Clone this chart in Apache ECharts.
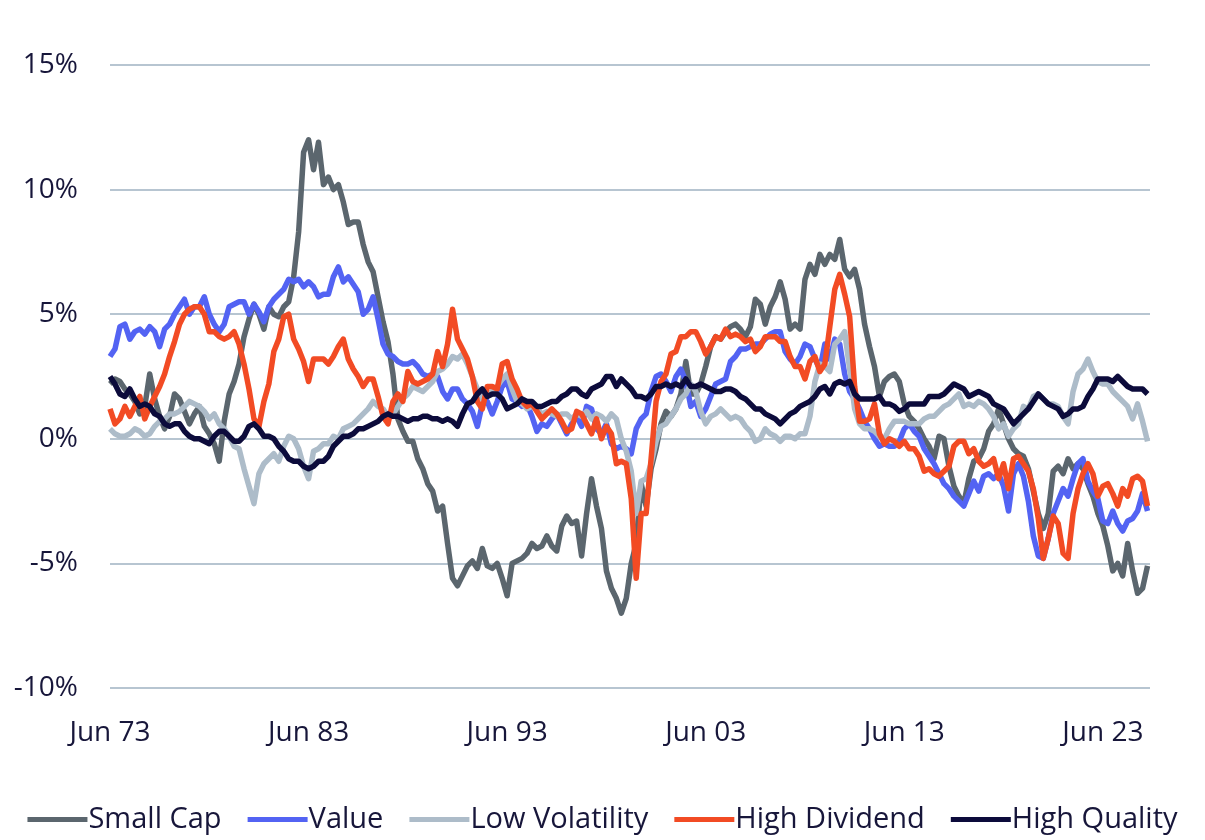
<!DOCTYPE html>
<html>
<head>
<meta charset="utf-8">
<script src="https://cdn.jsdelivr.net/npm/echarts@6/dist/echarts.min.js"></script>
<style>
html,body{margin:0;padding:0;background:#fff;}
#chart{width:1205px;height:840px;}
</style>
</head>
<body>
<div id="chart"></div>
<script>
// Quarterly observations, Jun 1973 (index 0) to Sep 2025 (index 209)
const seriesNames = ['Small Cap', 'Value', 'Low Volatility', 'High Dividend', 'High Quality'];
const xTickLabels = ['Jun 73', 'Jun 83', 'Jun 93', 'Jun 03', 'Jun 13', 'Jun 23'];
const yTickValues = [-10, -5, 0, 5, 10, 15];

const smallCap = [
  2.2, 2.4, 2.3, 2.0, 1.8, 1.5, 1.0, 1.3, 2.6, 1.6,
  0.9, 0.4, 0.9, 1.8, 1.6, 1.1, 0.6, 1.0, 1.3, 0.5,
  0.2, -0.2, -0.9, 0.7, 1.8, 2.3, 3.0, 4.1, 4.8, 5.4,
  5.0, 4.4, 5.3, 5.0, 4.9, 5.3, 5.5, 6.5, 8.3, 11.5,
  12.0, 10.8, 11.9, 10.2, 10.5, 10.0, 10.2, 9.5, 8.6, 8.7,
  8.7, 7.8, 7.1, 6.7, 5.7, 4.7, 3.9, 2.6, 0.8, 0.3,
  -0.1, -0.1, -0.8, -1.2, -1.8, -2.1, -2.9, -2.7, -4.2, -5.6,
  -5.9, -5.5, -5.1, -4.9, -5.2, -4.4, -5.1, -5.2, -5.0, -5.6,
  -6.3, -5.0, -4.9, -4.8, -4.6, -4.2, -4.4, -4.3, -3.9, -4.3,
  -4.5, -3.5, -3.1, -3.4, -3.3, -4.7, -3.0, -1.6, -2.7, -3.6,
  -5.3, -6.0, -6.4, -7.0, -6.4, -5.0, -4.2, -1.8, -2.7, -1.2,
  -0.4, 0.6, 1.1, 0.9, 1.2, 1.8, 3.1, 1.8, 1.8, 2.2,
  2.9, 3.7, 4.1, 4.0, 4.3, 4.5, 4.6, 4.4, 4.1, 4.5,
  5.6, 5.4, 4.6, 5.3, 5.7, 6.3, 5.6, 4.4, 4.6, 4.4,
  6.4, 7.0, 6.6, 7.4, 7.0, 7.4, 7.2, 8.0, 6.8, 6.5,
  6.8, 6.0, 4.6, 3.7, 2.9, 1.7, 2.3, 2.5, 2.6, 2.3,
  1.4, 0.9, 0.7, 0.4, 0.0, -0.3, -0.8, 0.1, 0.0, -1.1,
  -1.9, -2.3, -2.6, -1.6, -0.9, -0.8, -0.4, 0.3, 0.6, 1.2,
  0.6, 0.0, -0.4, -0.6, -0.7, -1.2, -2.1, -3.0, -3.6, -3.0,
  -1.3, -1.1, -1.4, -0.8, -1.2, -1.0, -1.2, -1.8, -2.3, -3.0,
  -3.5, -4.3, -5.3, -5.0, -5.5, -4.2, -5.3, -6.2, -6.0, -5.1
];

const value = [
  3.3, 3.6, 4.5, 4.6, 4.0, 4.3, 4.4, 4.2, 4.5, 4.3,
  3.7, 4.4, 4.6, 5.0, 5.3, 5.6, 5.0, 5.3, 5.3, 5.7,
  5.0, 4.6, 4.3, 4.6, 5.3, 5.4, 5.5, 5.5, 5.0, 5.4,
  5.1, 4.7, 5.3, 5.6, 5.8, 6.0, 6.4, 6.3, 6.4, 6.1,
  6.3, 6.1, 5.7, 5.8, 5.8, 6.5, 6.9, 6.3, 6.5, 6.2,
  5.9, 5.0, 5.2, 5.7, 4.8, 3.8, 3.4, 3.3, 3.1, 3.0,
  3.0, 3.1, 2.9, 2.6, 2.5, 2.6, 2.5, 1.9, 1.6, 2.0,
  2.0, 1.6, 1.4, 1.1, 0.5, 1.4, 1.5, 1.0, 1.5, 2.1,
  2.3, 1.6, 1.5, 1.3, 1.4, 0.9, 0.3, 0.6, 0.5, 0.8,
  1.0, 0.6, 0.2, 0.6, 0.9, 0.5, 1.3, 1.2, 0.4, 0.2,
  0.6, -0.2, -0.4, -0.3, -0.4, -0.6, 0.4, 0.8, 1.0, 1.9,
  2.5, 2.6, 2.3, 1.9, 2.5, 2.8, 2.3, 1.3, 1.5, 0.9,
  1.2, 1.7, 2.2, 2.3, 2.4, 3.1, 3.3, 3.6, 3.6, 3.7,
  3.8, 3.8, 4.0, 4.2, 4.3, 4.3, 3.5, 3.2, 3.0, 3.3,
  3.8, 3.7, 3.2, 2.8, 3.8, 3.2, 4.0, 3.8, 2.6, 1.9,
  1.6, 1.2, 0.7, 0.4, 0.0, -0.3, -0.2, -0.3, -0.3, -0.1,
  0.4, 0.6, 0.3, 0.1, -0.4, -0.7, -1.0, -1.4, -1.8, -2.0,
  -2.3, -2.5, -2.7, -2.2, -1.7, -2.1, -1.5, -1.4, -1.6, -1.4,
  -1.9, -2.9, -1.4, -1.0, -1.5, -2.5, -3.9, -4.7, -4.8, -4.0,
  -3.0, -2.5, -2.0, -2.3, -1.6, -1.0, -0.8, -1.7, -2.1, -2.4,
  -3.3, -3.4, -2.9, -3.4, -3.7, -3.3, -3.2, -2.9, -2.2, -2.9
];

const lowVolatility = [
  0.4, 0.2, 0.1, 0.1, 0.2, 0.4, 0.3, 0.1, 0.2, 0.5,
  0.7, 0.8, 1.0, 1.0, 1.1, 1.3, 1.5, 1.4, 1.3, 1.1,
  0.8, 1.0, 0.6, 0.4, 0.1, -0.3, -0.4, -1.2, -1.9, -2.6,
  -1.4, -1.0, -0.8, -0.6, -0.9, -0.3, 0.1, 0.0, -0.4, -1.1,
  -1.6, -0.5, -0.4, -0.2, -0.2, 0.1, 0.0, 0.4, 0.5, 0.6,
  0.8, 1.0, 1.2, 1.5, 1.3, 1.2, 0.9, 1.0, 1.3, 1.6,
  1.8, 2.1, 2.0, 1.9, 2.1, 2.3, 2.7, 2.8, 3.0, 3.3,
  3.2, 3.4, 3.0, 2.5, 2.0, 1.6, 1.8, 1.9, 2.1, 2.4,
  2.6, 2.0, 1.5, 1.4, 1.2, 1.3, 1.2, 1.0, 1.1, 1.0,
  0.9, 1.0, 1.0, 0.8, 1.0, 0.9, 1.1, 0.8, 1.0, 0.9,
  0.7, 1.0, 0.8, 0.0, -0.5, -1.3, -3.0, -1.7, -1.6, -1.0,
  -0.1, 0.5, 0.6, 0.9, 1.2, 1.6, 1.8, 2.2, 1.9, 1.1,
  0.6, 0.9, 1.0, 1.2, 1.0, 0.8, 0.9, 0.8, 0.5, 0.3,
  -0.1, 0.0, 0.4, 0.2, 0.1, -0.1, 0.1, 0.1, 0.0, 0.2,
  0.2, 0.9, 2.3, 3.0, 2.9, 2.7, 3.8, 4.0, 4.3, 2.8,
  1.2, 0.6, 0.4, 0.4, 0.3, 0.1, 0.0, 0.4, 0.7, 0.7,
  0.7, 0.6, 0.6, 0.6, 0.8, 0.9, 0.9, 1.1, 1.3, 1.4,
  1.6, 1.8, 1.3, 1.4, 1.3, 1.5, 1.4, 1.2, 0.9, 0.4,
  0.6, 0.1, 0.4, 0.6, 1.3, 1.2, 1.7, 1.8, 1.6, 1.4,
  1.4, 1.3, 0.9, 0.6, 1.9, 2.6, 2.8, 3.2, 2.7, 2.3,
  2.2, 2.2, 1.9, 1.7, 1.5, 1.3, 0.8, 1.4, 0.7, -0.1
];

const highDividend = [
  1.2, 0.6, 0.8, 1.3, 0.9, 1.3, 1.7, 0.8, 1.3, 1.7,
  2.1, 2.6, 3.3, 3.9, 4.6, 5.0, 5.2, 5.3, 5.3, 5.0,
  4.3, 4.3, 4.1, 4.0, 4.1, 4.3, 3.8, 3.0, 2.0, 0.8,
  0.5, 1.5, 2.2, 3.5, 4.0, 4.9, 5.0, 4.0, 3.6, 3.1,
  2.3, 3.2, 3.2, 3.2, 3.0, 3.3, 3.7, 4.0, 3.2, 2.8,
  2.5, 2.1, 2.4, 2.4, 1.7, 0.9, 0.6, 1.5, 1.8, 1.5,
  2.7, 2.3, 2.2, 2.3, 2.4, 2.6, 3.5, 2.9, 3.8, 5.2,
  4.0, 3.6, 3.2, 2.5, 1.5, 1.2, 2.1, 2.1, 2.0, 3.0,
  3.1, 2.4, 2.0, 1.5, 1.3, 1.4, 1.1, 0.8, 1.0, 1.2,
  1.0, 0.7, 0.3, 0.4, 1.1, 1.0, 0.6, 0.2, 0.8, 0.0,
  0.5, 0.2, -1.0, -0.9, -1.0, -2.4, -5.6, -3.0, -3.0, -0.8,
  1.5, 2.3, 2.6, 3.4, 3.5, 4.1, 4.1, 4.3, 4.3, 3.9,
  3.4, 3.7, 4.1, 4.0, 4.4, 4.1, 4.2, 4.1, 3.9, 4.0,
  3.5, 3.7, 4.1, 4.1, 4.1, 3.9, 3.9, 3.3, 2.9, 2.9,
  2.4, 3.1, 3.3, 2.7, 3.0, 4.5, 6.0, 6.6, 5.8, 4.9,
  2.1, 0.7, 0.7, 0.8, 1.4, 0.2, -0.2, 0.0, -0.1, -0.3,
  -0.1, -0.4, -0.4, -0.7, -1.3, -1.2, -1.4, -1.5, -1.3, -1.1,
  -0.3, -0.1, -0.1, -0.6, -0.4, -0.9, -1.1, -1.0, -0.8, -1.6,
  -1.0, -2.0, -0.8, -0.7, -1.0, -1.3, -2.0, -3.2, -4.8, -4.0,
  -3.1, -3.4, -4.6, -4.8, -3.0, -2.0, -1.4, -1.0, -1.4, -2.3,
  -1.9, -1.8, -2.2, -2.7, -2.0, -2.3, -1.6, -1.5, -1.7, -2.7
];

const highQuality = [
  2.5, 2.2, 1.8, 1.7, 2.0, 1.6, 1.3, 1.4, 1.3, 1.0,
  0.9, 0.6, 0.5, 0.6, 0.6, 0.3, 0.1, 0.0, 0.0, -0.1,
  -0.2, 0.1, 0.3, 0.3, 0.1, -0.1, -0.1, 0.1, 0.5, 0.6,
  0.4, 0.1, 0.1, 0.0, -0.3, -0.5, -0.8, -0.9, -0.9, -1.1,
  -1.2, -1.1, -0.9, -0.9, -0.7, -0.3, -0.1, 0.1, 0.1, 0.2,
  0.4, 0.4, 0.5, 0.6, 0.7, 0.9, 1.0, 0.9, 0.9, 0.8,
  0.7, 0.8, 0.8, 0.9, 0.9, 0.8, 0.8, 0.7, 0.8, 0.7,
  0.5, 1.0, 1.4, 1.5, 1.8, 2.0, 1.7, 1.8, 1.8, 1.6,
  1.2, 1.3, 1.4, 1.6, 1.5, 1.5, 1.3, 1.3, 1.4, 1.5,
  1.5, 1.7, 1.8, 2.0, 2.0, 1.8, 1.7, 2.0, 2.1, 2.2,
  2.5, 2.5, 2.1, 2.4, 2.2, 2.0, 1.7, 1.7, 1.6, 1.8,
  2.1, 2.1, 2.2, 2.1, 2.2, 2.1, 2.4, 2.1, 2.1, 2.2,
  2.1, 2.0, 1.9, 1.9, 2.0, 2.0, 1.9, 1.7, 1.6, 1.4,
  1.2, 1.2, 1.0, 0.9, 0.8, 0.6, 0.8, 1.0, 1.1, 1.3,
  1.4, 1.5, 1.7, 2.0, 2.1, 1.8, 2.2, 2.3, 2.2, 2.3,
  1.8, 1.6, 1.6, 1.6, 1.6, 1.7, 1.4, 1.4, 1.3, 1.1,
  1.2, 1.4, 1.4, 1.4, 1.4, 1.7, 1.7, 1.7, 1.8, 2.0,
  2.2, 2.1, 2.0, 1.7, 1.8, 1.9, 1.8, 1.7, 1.4, 1.3,
  1.2, 0.9, 0.6, 0.8, 1.0, 1.2, 1.5, 1.8, 1.6, 1.4,
  1.3, 1.2, 0.9, 1.0, 1.2, 1.2, 1.3, 1.7, 2.0, 2.4,
  2.4, 2.4, 2.3, 2.5, 2.3, 2.1, 2.0, 2.0, 2.0, 1.8
];

const seriesColors = ['#5b666e', '#5363f3', '#adbcc9', '#f24b24', '#0c0b3b'];
const allValues = [smallCap, value, lowVolatility, highDividend, highQuality];

const textColor = '#17163a';
const fontFamily = "'Open Sans', 'Liberation Sans', sans-serif";

const chart = echarts.init(document.getElementById('chart'), null, {renderer: 'canvas'});
chart.setOption({
  backgroundColor: '#ffffff',
  animation: false,
  grid: {left: 110, right: 55, top: 65, bottom: 152, containLabel: false},
  legend: {
    top: 800,
    left: 'center',
    icon: 'path://M0,0H60V5H0Z',
    symbolKeepAspect: false,
    itemWidth: 60,
    itemHeight: 5,
    itemGap: 26,
    itemStyle: {borderWidth: 0},
    lineStyle: {width: 0},
    textStyle: {color: textColor, fontSize: 29, fontFamily: fontFamily, padding: [0, 0, 0, -4]},
    data: seriesNames
  },
  xAxis: {
    type: 'value',
    min: 0,
    max: 209.5,
    interval: 40,
    axisLine: {show: false},
    axisTick: {show: false},
    splitLine: {show: false},
    axisLabel: {
      color: textColor,
      fontSize: 28,
      fontFamily: fontFamily,
      margin: 31,
      showMaxLabel: false,
      formatter: function (v) {
        return (v % 40 === 0) ? xTickLabels[v / 40] : '';
      }
    }
  },
  yAxis: {
    type: 'value',
    min: yTickValues[0],
    max: yTickValues[yTickValues.length - 1],
    interval: 5,
    axisLine: {show: false},
    axisTick: {show: false},
    splitLine: {lineStyle: {color: '#b7c5d1', width: 2}},
    axisLabel: {
      color: textColor,
      fontSize: 28,
      fontFamily: fontFamily,
      margin: 32,
      formatter: function (v) { return v + '%'; }
    }
  },
  series: seriesNames.map(function (name, k) {
    return {
      name: name,
      type: 'line',
      showSymbol: false,
      symbol: 'none',
      smooth: false,
      color: seriesColors[k],
      lineStyle: {width: 5.5, color: seriesColors[k], join: 'round'},
      data: allValues[k].map(function (v, i) { return [i, v]; })
    };
  })
});
</script>
</body>
</html>
